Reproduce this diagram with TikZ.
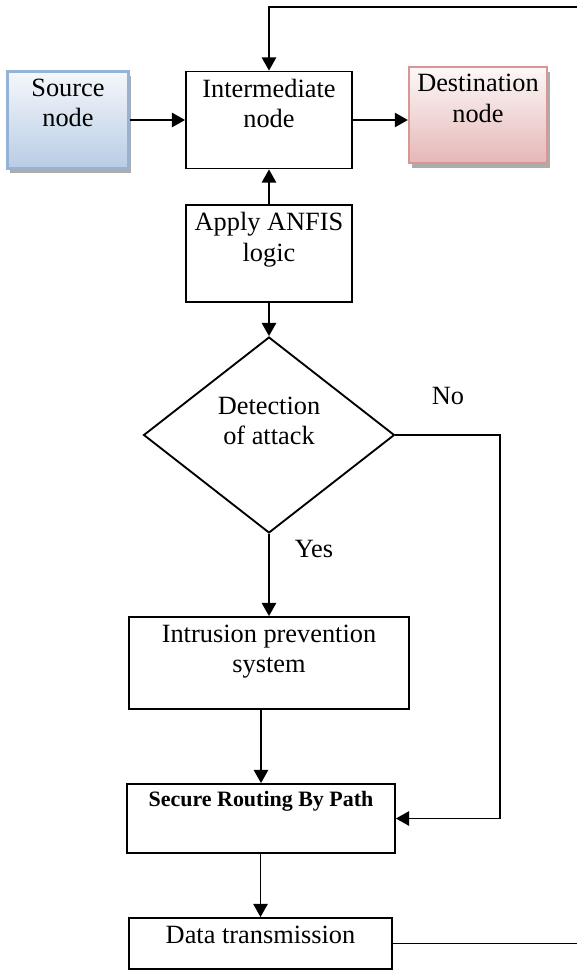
\documentclass[tikz,border=0pt]{standalone}
\usepackage{fontspec}
\setmainfont{Liberation Serif}
\usetikzlibrary{positioning, arrows.meta, shapes.geometric, shadows}
\definecolor{srcblue}{RGB}{184,204,228}
\definecolor{srcedge}{RGB}{149,179,215}
\definecolor{dstpink}{RGB}{229,184,183}
\definecolor{dstedge}{RGB}{217,150,148}

\begin{document}
\begin{tikzpicture}[x=0.016cm, y=-0.016cm,
    box/.style={draw, line width=0.85pt, inner sep=0pt},
    endbox/.style={box, line width=1pt,
      drop shadow={shadow xshift=1.3pt, shadow yshift=-2.2pt, fill=gray!65, opacity=1}},
    intext/.style={anchor=north, align=center, inner sep=0pt, yshift=-3.7pt,
      font=\fontsize{12}{13.7}\selectfont},
    arr/.style={-{Triangle[length=6pt,width=6.5pt]}, line width=0.85pt},
    font=\fontsize{12}{13.7}\selectfont]
  \useasboundingbox (0,0) rectangle (577,970);

  % nodes of the network
  \node[endbox, draw=srcedge, top color=srcblue!15, bottom color=srcblue,
        minimum width=1.936cm, minimum height=1.552cm,
        label={[intext]north:Source\\node}] (src) at (68,120) {};
  \node[box, minimum width=2.656cm, minimum height=1.552cm,
        label={[intext]north:Intermediate\\node}] (inter) at (269,120) {};
  \node[endbox, draw=dstedge, top color=dstpink!10, bottom color=dstpink,
        minimum width=2.208cm, minimum height=1.536cm,
        label={[intext]north:Destination\\node}] (dest) at (478,115) {};

  % detection and routing steps
  \node[box, minimum width=2.656cm, minimum height=1.552cm,
        label={[intext]north:Apply ANFIS\\logic}] (anfis) at (269,253.5) {};
  \node[box, diamond, minimum width=4.016cm, minimum height=3.136cm,
        label={[intext, yshift=-24pt]north:Detection\\of attack}] (detect) at (269,435) {};
  \node[box, minimum width=4.48cm, minimum height=1.472cm,
        label={[intext]north:Intrusion prevention\\system}] (ips) at (269,663) {};
  \node[box, minimum width=4.288cm, minimum height=1.104cm,
        label={[intext, font=\fontsize{10}{12}\selectfont\bfseries]north:Secure Routing By Path}] (secure) at (261,818.5) {};
  \node[box, minimum width=4.208cm, minimum height=0.816cm,
        label={[intext]north:Data transmission}] (data) at (260.5,943.5) {};

  \coordinate (loopedge) at (579,7);

  % connectors
  \draw[arr] (src.east) -- (src.east -| inter.west);
  \draw[arr] (inter.east) -- (inter.east -| dest.west);
  \draw[arr] (anfis) -- (inter);
  \draw[arr] (anfis) -- (detect);
  \draw[arr] (detect) -- node[pos=0.18, right=8pt] (yes) {Yes} (ips);
  \draw[arr] (detect.east) -- node[above=10pt] (no) {No} ++(105,0) |- (secure.east);
  \draw[arr] (ips.south -| secure.north) -- (secure.north);
  \draw[arr] (secure.south -| data.north) -- (data.north);
  \draw[arr] (data.east) -| (loopedge) -| (inter.north);
\end{tikzpicture}
\end{document}
